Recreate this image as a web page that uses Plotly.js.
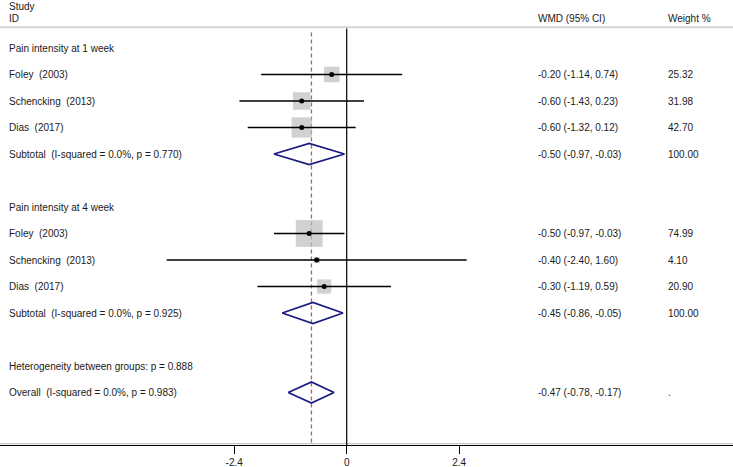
<!DOCTYPE html>
<html>
<head>
<meta charset="utf-8">
<script src="https://cdn.plot.ly/plotly-3.0.1.min.js"></script>
<style>html,body{margin:0;padding:0;background:#fff;}#chart{width:733px;height:467px;}</style>
</head>
<body>
<div id="chart"></div>
<script>
// ---- data ----
const groupTitles = ['Pain intensity at 1 week', 'Pain intensity at 4 week'];
const studies = ['Foley\u00a0 (2003)', 'Schencking\u00a0 (2013)', 'Dias\u00a0 (2017)'];
const wk1Est = [-0.20, -0.60, -0.60];
const wk1Lo = [-1.14, -1.43, -1.32];
const wk1Hi = [0.74, 0.23, 0.12];
const wk1Weight = [25.32, 31.98, 42.70];
const wk4Est = [-0.50, -0.40, -0.30];
const wk4Lo = [-0.97, -2.40, -1.19];
const wk4Hi = [-0.03, 1.60, 0.59];
const wk4Weight = [74.99, 4.10, 20.90];
const subtotalLabels = ['Subtotal\u00a0 (I-squared = 0.0%, p = 0.770)', 'Subtotal\u00a0 (I-squared = 0.0%, p = 0.925)'];
const subEst = [-0.50, -0.45];
const subLo = [-0.97, -0.86];
const subHi = [-0.03, -0.05];
const subWeight = ['100.00', '100.00'];
const heterogeneityLabel = 'Heterogeneity between groups: p = 0.888';
const overallLabel = 'Overall\u00a0 (I-squared = 0.0%, p = 0.983)';
const overallEst = -0.47, overallLo = -0.78, overallHi = -0.17;
const tickValues = [-1.5, 0, 1.5];
const tickLabels = ['-2.4', '0', '2.4'];

// ---- layout helpers ----
const W = 733;
const fontFam = '"Liberation Sans", Arial, sans-serif';
const txtColor = '#1a1a1a';
const fmt = v => v.toFixed(2);
const ci = (e, l, h) => fmt(e) + ' (' + fmt(l) + ', ' + fmt(h) + ')';

const groups = [
  {title: groupTitles[0], est: wk1Est, lo: wk1Lo, hi: wk1Hi, w: wk1Weight, start: 0},
  {title: groupTitles[1], est: wk4Est, lo: wk4Lo, hi: wk4Hi, w: wk4Weight, start: 6}
];

const ann = [];
function txt(xpx, row, text) {
  ann.push({xref: 'paper', yref: 'y', x: xpx / W, y: row, text: text, showarrow: false,
    xanchor: 'left', yanchor: 'middle', font: {family: fontFam, size: 10, color: txtColor}});
}
const xL = 7, xWMD = 536, xWt = 666;
txt(xL, -1.58, 'Study');
txt(xL, -1.10, 'ID');
txt(xWMD, -1.10, 'WMD (95% CI)');
txt(xWt, -1.10, 'Weight %');

const boxX = [], boxY = [], boxS = [];
const lineX = [], lineY = [];
const dotX = [], dotY = [];
const diaX = [], diaY = [];
function diamond(e, l, h, r) {
  diaX.push(l, e, h, e, l, null);
  diaY.push(r, r - 0.4, r, r + 0.4, r, null);
}

groups.forEach((g, gi) => {
  txt(xL, g.start, g.title);
  for (let i = 0; i < studies.length; i++) {
    const r = g.start + 1 + i;
    txt(xL, r, studies[i]);
    txt(xWMD, r, ci(g.est[i], g.lo[i], g.hi[i]));
    txt(xWt, r, fmt(g.w[i]));
    boxX.push(g.est[i]); boxY.push(r); boxS.push(3.1 * Math.sqrt(g.w[i]));
    lineX.push(g.lo[i], g.hi[i], null); lineY.push(r, r, null);
    dotX.push(g.est[i]); dotY.push(r);
  }
  const rs = g.start + 4;
  txt(xL, rs, subtotalLabels[gi]);
  txt(xWMD, rs, ci(subEst[gi], subLo[gi], subHi[gi]));
  txt(xWt, rs, subWeight[gi]);
  diamond(subEst[gi], subLo[gi], subHi[gi], rs);
});
txt(xL, 12, heterogeneityLabel);
txt(xL, 13, overallLabel);
txt(xWMD, 13, ci(overallEst, overallLo, overallHi));
txt(xWt, 13, '.');
diamond(overallEst, overallLo, overallHi, 13);

const traces = [
  {x: boxX, y: boxY, mode: 'markers', type: 'scatter', hoverinfo: 'skip',
   marker: {symbol: 'square', size: boxS, color: '#bdbdbd', line: {width: 0}}},
  {x: lineX, y: lineY, mode: 'lines', type: 'scatter', hoverinfo: 'skip',
   line: {color: '#000', width: 1.6}},
  {x: dotX, y: dotY, mode: 'markers', type: 'scatter', hoverinfo: 'skip',
   marker: {symbol: 'circle', size: 5, color: '#000'}},
  {x: diaX, y: diaY, mode: 'lines', type: 'scatter', hoverinfo: 'skip',
   line: {color: '#1a1a80', width: 1.8}}
];

const yBottom = 14.98, yTop = -1.811;
const layout = {
  width: 733, height: 467,
  margin: {l: 0, r: 0, t: 0, b: 22, pad: 0},
  paper_bgcolor: '#fff', plot_bgcolor: '#fff',
  showlegend: false,
  xaxis: {range: [-4.623, 5.151], showgrid: false, zeroline: false,
    showline: true, linecolor: '#000', linewidth: 1,
    tickvals: tickValues, ticktext: tickLabels, ticks: 'outside', ticklen: 8,
    tickcolor: '#000', tickwidth: 1,
    tickfont: {family: fontFam, size: 10, color: txtColor}, fixedrange: true},
  yaxis: {range: [yBottom, yTop], visible: false, fixedrange: true},
  annotations: ann,
  shapes: [
    {type: 'line', xref: 'paper', yref: 'y', x0: 0, x1: 1, y0: -0.78, y1: -0.78,
     line: {color: '#d4d4d4', width: 2}, layer: 'below'},
    {type: 'line', xref: 'paper', yref: 'y', x0: 0, x1: 1, y0: 14.93, y1: 14.93,
     line: {color: '#bbbbbb', width: 1}, layer: 'below'},
    {type: 'line', xref: 'x', yref: 'y', x0: 0, x1: 0, y0: -0.74, y1: yBottom,
     line: {color: '#000', width: 1.2}, layer: 'below'},
    {type: 'line', xref: 'x', yref: 'y', x0: overallEst, x1: overallEst, y0: -0.58, y1: yBottom,
     line: {color: '#b0606a', width: 1.3, dash: '4px,3px'}, layer: 'below'}
  ]
};

Plotly.newPlot('chart', traces, layout, {staticPlot: true, displayModeBar: false});
</script>
</body>
</html>
